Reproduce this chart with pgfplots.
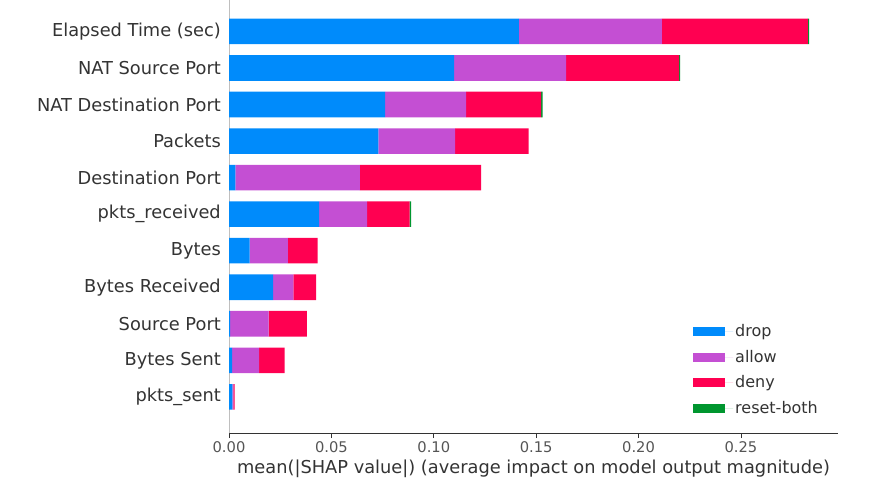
\documentclass[border=0pt]{standalone}
\usepackage{pgfplots}
\pgfplotsset{compat=1.18}
\usepackage{fontspec}
\setmainfont{DejaVu Sans}
\definecolor{cdrop}{HTML}{008BFB}
\definecolor{callow}{HTML}{C44FD3}
\definecolor{cdeny}{HTML}{FF0051}
\definecolor{creset}{HTML}{00962F}
\definecolor{txt}{HTML}{333333}
\definecolor{ticktxt}{HTML}{555555}
\pgfplotsset{rectlegend/.style={legend image code/.code={\fill[##1,draw=none] (0bp,-4.5bp) rectangle (32bp,4.5bp); \path (0bp,0bp) -- (40bp,0bp);}}}
\begin{document}
\begin{tikzpicture}
\path (0bp,0bp) rectangle (875bp,495bp);
\begin{axis}[
  at={(229bp,62bp)}, anchor=south west,
  scale only axis, width=609bp, height=433bp,
  xbar stacked, bar width=0.7,
  xmin=0, xmax=0.2974, ymin=-1, ymax=10.85,
  axis x line*=bottom, axis y line*=left,
  x axis line style={color=txt, line width=0.8bp},
  y axis line style={color=black!25, line width=0.8bp},
  xtick={0,0.05,0.1,0.15,0.2,0.25},
  xticklabels={0.00,0.05,0.10,0.15,0.20,0.25},
  tick align=outside, major tick length=4.7bp,
  xtick style={color=txt, line width=0.8bp},
  ytick={0,1,2,3,4,5,6,7,8,9,10},
  yticklabels={pkts\_sent, Bytes Sent, Source Port, Bytes Received, Bytes, pkts\_received, Destination Port, Packets, NAT Destination Port, NAT Source Port, Elapsed Time (sec)},
  ytick style={draw=none},
  xticklabel style={font=\fontsize{14.7bp}{16bp}\selectfont, color=ticktxt},
  yticklabel style={font=\fontsize{17.8bp}{19bp}\selectfont, color=txt},
  xlabel={mean(|SHAP value|) (average impact on model output magnitude)},
  xlabel style={font=\fontsize{17.8bp}{19bp}\selectfont, color=txt},
  legend style={at={(0.757,0.261)}, anchor=north west, draw=none, fill=none,
    font=\fontsize{16bp}{18bp}\selectfont, text=txt, row sep=8bp},
  legend cell align=left,
]
\addplot[fill=cdrop, draw=none, rectlegend] coordinates {(0.1416,10) (0.1099,9) (0.0762,8) (0.0730,7) (0.0031,6) (0.0440,5) (0.0101,4) (0.0215,3) (0.0005,2) (0.0015,1) (0.0016,0)};
\addplot[fill=callow, draw=none, rectlegend] coordinates {(0.0698,10) (0.0547,9) (0.0396,8) (0.0374,7) (0.0608,6) (0.0234,5) (0.0186,4) (0.0099,3) (0.0189,2) (0.0132,1) (0.0005,0)};
\addplot[fill=cdeny, draw=none, rectlegend] coordinates {(0.0713,10) (0.0552,9) (0.0366,8) (0.0359,7) (0.0592,6) (0.0208,5) (0.0146,4) (0.0112,3) (0.0186,2) (0.0125,1) (0.0007,0)};
\addplot[fill=creset, draw=none, rectlegend] coordinates {(0.0006,10) (0.0005,9) (0.0007,8) (0,7) (0,6) (0.0007,5) (0,4) (0,3) (0,2) (0,1) (0,0)};
\legend{drop, allow, deny, reset-both}
\end{axis}
\end{tikzpicture}
\end{document}
